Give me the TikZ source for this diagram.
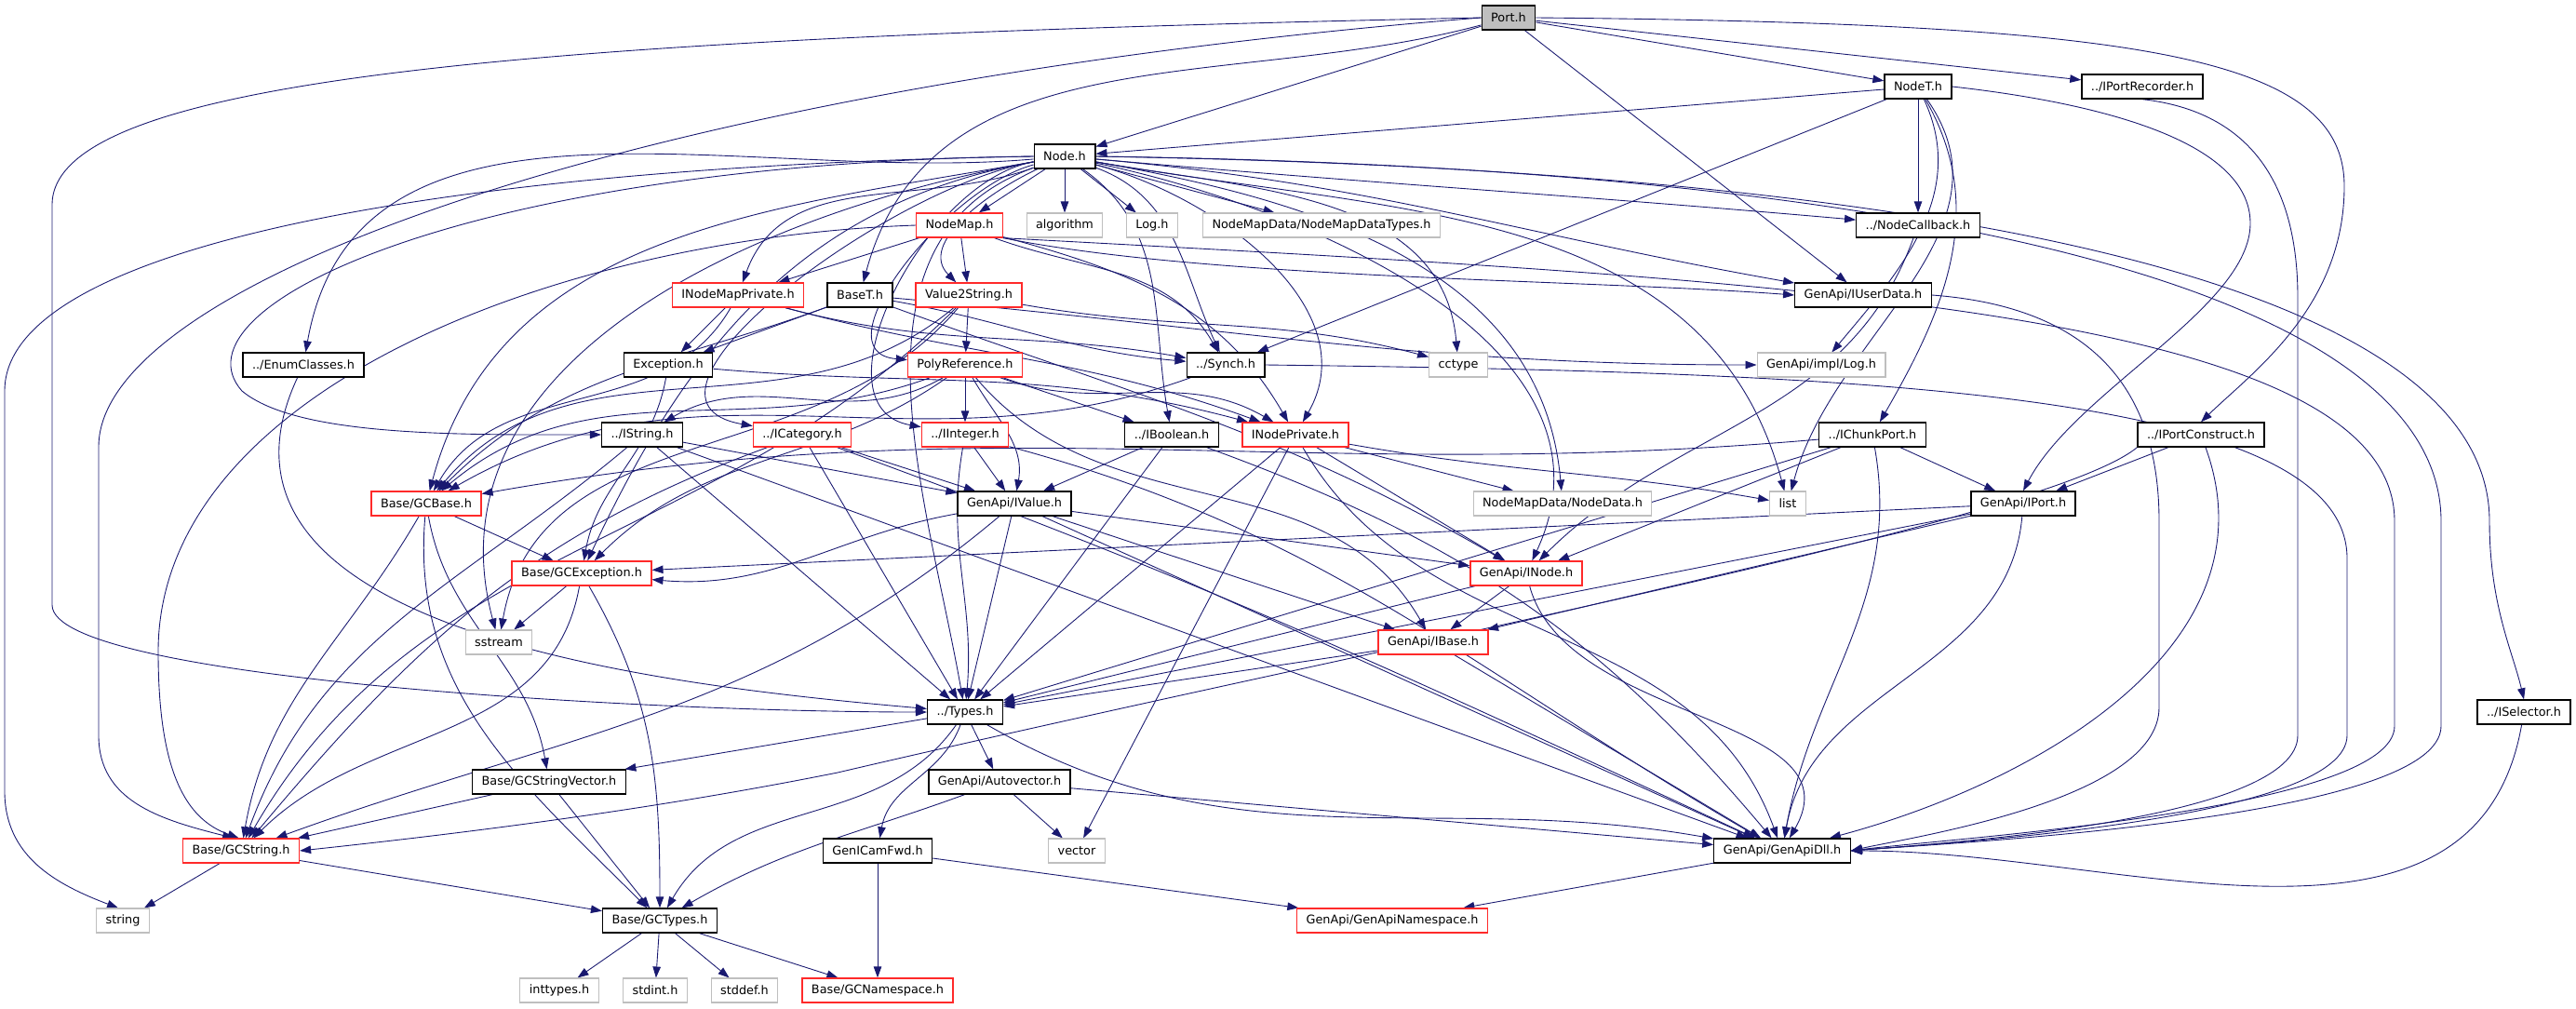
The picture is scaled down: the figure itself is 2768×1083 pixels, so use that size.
\documentclass[tikz,border=0pt]{standalone}
\usepackage{fontspec}
\setmainfont{DejaVu Sans}
\usepackage{tikz}
\usetikzlibrary{arrows.meta}
\definecolor{edgeBlue}{HTML}{191970}
\definecolor{fileRed}{HTML}{FF2A2A}
\definecolor{sysGray}{HTML}{BFBFBF}
\pgfdeclarelayer{edges}
\pgfsetlayers{edges,main}
\tikzset{
  every node/.style={
    font=\fontsize{7.3}{8.5}\selectfont
  },
  file/.style={
    shape=rectangle,
    draw=black,
    line width=0.75pt,
    fill=white,
    minimum height=0.52cm,
    inner xsep=0.2cm,
    inner ysep=0pt
  },
  linked/.style={
    file,
    draw=fileRed
  },
  sysfile/.style={
    file,
    draw=sysGray,
    line width=0.6pt
  },
  current/.style={
    file,
    fill=sysGray
  },
  dep/.style={
    draw=edgeBlue,
    line width=0.5pt,
    -{Triangle[length=0.24cm,width=0.17cm]}
  }
}

\begin{document}
\begin{tikzpicture}[x=0.02cm,y=-0.02cm]
    \useasboundingbox (0,0) rectangle (2768,1083);

    % files, row by row
    \node [current] (port) at (1621,19) {Port.h};
    \node [file] (nodet) at (2061,93) {NodeT.h};
    \node [file] (recorder) at (2302,93) {../IPortRecorder.h};
    \node [file] (nodeh) at (1144,168) {Node.h};
    \node [linked] (nodemap) at (1031,242) {NodeMap.h};
    \node [sysfile] (algorithm) at (1144,242) {algorithm};
    \node [sysfile] (logh) at (1238,242) {Log.h};
    \node [sysfile] (datatypes) at (1420,242) {NodeMapData/NodeMapDataTypes.h};
    \node [file] (callback) at (2061,242) {../NodeCallback.h};
    \node [linked] (mapprivate) at (793,317) {INodeMapPrivate.h};
    \node [file] (baset) at (924,317) {BaseT.h};
    \node [linked] (valstring) at (1041,317) {Value2String.h};
    \node [file] (userdata) at (2002,317) {GenApi/IUserData.h};
    \node [file] (enumcl) at (326,392) {../EnumClasses.h};
    \node [file] (exception) at (718,392) {Exception.h};
    \node [linked] (polyref) at (1037,392) {PolyReference.h};
    \node [file] (synch) at (1317,392) {../Synch.h};
    \node [sysfile] (cctype) at (1567,392) {cctype};
    \node [sysfile] (implog) at (1957,392) {GenApi/impl/Log.h};
    \node [file] (istring) at (690,467) {../IString.h};
    \node [linked] (icategory) at (862,467) {../ICategory.h};
    \node [linked] (iinteger) at (1037,467) {../IInteger.h};
    \node [file] (iboolean) at (1259,467) {../IBoolean.h};
    \node [linked] (nodeprivate) at (1392,467) {INodePrivate.h};
    \node [file] (chunkport) at (2012,467) {../IChunkPort.h};
    \node [file] (construct) at (2365,467) {../IPortConstruct.h};
    \node [linked] (gcbase) at (458,541) {Base/GCBase.h};
    \node [file] (ivalue) at (1090,541) {GenApi/IValue.h};
    \node [sysfile] (nodedata) at (1679,541) {NodeMapData/NodeData.h};
    \node [sysfile] (list) at (1921,541) {list};
    \node [file] (iport) at (2174,541) {GenApi/IPort.h};
    \node [linked] (gcexception) at (625,616) {Base/GCException.h};
    \node [linked] (inode) at (1640,616) {GenApi/INode.h};
    \node [sysfile] (sstream) at (536,690) {sstream};
    \node [linked] (ibase) at (1540,690) {GenApi/IBase.h};
    \node [file] (types) at (1037,765) {../Types.h};
    \node [file] (selector) at (2712,765) {../ISelector.h};
    \node [file] (strvector) at (590,840) {Base/GCStringVector.h};
    \node [file] (autovector) at (1074,840) {GenApi/Autovector.h};
    \node [linked] (gcstring) at (259,914) {Base/GCString.h};
    \node [file] (icamfwd) at (943,914) {GenICamFwd.h};
    \node [sysfile] (vector) at (1157,914) {vector};
    \node [file] (apidll) at (1915,914) {GenApi/GenApiDll.h};
    \node [sysfile] (string) at (132,989) {string};
    \node [file] (gctypes) at (709,989) {Base/GCTypes.h};
    \node [linked] (apinamespace) at (1496,989) {GenApi/GenApiNamespace.h};
    \node [sysfile] (inttypes) at (601,1064) {inttypes.h};
    \node [sysfile] (stdint) at (704,1064) {stdint.h};
    \node [sysfile] (stddef) at (800,1064) {stddef.h};
    \node [linked] (gcnamespace) at (943,1064) {Base/GCNamespace.h};

    \begin{pgfonlayer}{edges}
    % Port.h
    \path (port) edge[dep] (nodeh) edge[dep] (nodet) edge[dep] (recorder)
      edge[dep] (userdata) edge[dep, out=195, in=75] (baset);
    \draw[dep] (port.west) .. controls (600,40) and (56,80) .. (56,220) -- (56,650)
      .. controls (56,730) and (700,765) .. (types.west);
    \draw[dep] (port.west) .. controls (700,90) and (106,300) .. (106,480) -- (106,790)
      .. controls (106,860) and (170,880) .. (gcstring.120);
    \draw[dep] (port.east) .. controls (2300,25) and (2519,60) .. (2519,200)
      .. controls (2519,330) and (2420,400) .. (construct.north);

    % NodeT.h
    \path (nodet) edge[dep] (nodeh) edge[dep] (callback) edge[dep] (synch)
      edge[dep, out=-65, in=50] (implog) edge[dep, out=-55, in=75] (list)
      edge[dep, out=-60, in=60] (chunkport);
    \draw[dep] (nodet.east) .. controls (2250,110) and (2418,150) .. (2418,240)
      .. controls (2418,330) and (2230,420) .. (iport.north);

    % ../IPortRecorder.h
    \draw[dep] (recorder.south) .. controls (2420,120) and (2469,200) .. (2469,320) -- (2469,790)
      .. controls (2469,880) and (2100,905) .. (apidll.east);

    % Node.h
    \path (nodeh) edge[dep] (nodemap) edge[dep] (algorithm) edge[dep] (logh) edge[dep] (datatypes)
      edge[dep, out=-5, in=175] (callback) edge[dep, out=-5, in=170] (userdata)
      edge[dep, out=200, in=70] (mapprivate) edge[dep, out=205, in=135] (valstring)
      edge[dep, out=195, in=175] (polyref) edge[dep, out=-20, in=115] (synch)
      edge[dep, out=-10, in=95] (cctype) edge[dep, out=185, in=80] (enumcl)
      edge[dep, out=-35, in=100] (iboolean) edge[dep, out=-15, in=60] (nodeprivate)
      edge[dep, out=-10, in=95] (nodedata) edge[dep, out=-10, in=105] (list)
      edge[dep, out=-12, in=65] (inode) edge[dep, out=190, in=65] (gcexception)
      edge[dep, out=190, in=105] (sstream) edge[dep, out=200, in=100] (types)
      edge[dep, out=190, in=75] (gcbase) edge[dep, out=190, in=170] (icategory)
      edge[dep, out=190, in=170] (iinteger);
    \draw[dep] (nodeh.west) .. controls (500,175) and (180,330) .. (260,420)
      .. controls (320,470) and (500,467) .. (istring.west);
    \draw[dep] (nodeh.west) .. controls (500,178) and (5,260) .. (5,420) -- (5,850)
      .. controls (5,920) and (60,950) .. (string.110);
    \draw[dep] (nodeh.east) .. controls (2200,185) and (2675,330) .. (2675,560)
      .. controls (2675,650) and (2700,700) .. (selector.north);
    \draw[dep] (nodeh.east) .. controls (2100,180) and (2623,320) .. (2623,560) -- (2623,780)
      .. controls (2623,880) and (2100,905) .. (apidll.east);

    % NodeMap.h
    \path (nodemap) edge[dep] (mapprivate) edge[dep] (valstring)
      edge[dep, out=-20, in=120] (synch) edge[dep, out=-15, in=120] (nodeprivate);
    \draw[dep] (nodemap.south east) .. controls (1300,300) and (1700,300) .. (userdata.west);
    \draw[dep] (nodemap.west) .. controls (600,255) and (170,420) .. (170,700)
      .. controls (170,830) and (200,880) .. (gcstring.100);
    \draw[dep] (nodemap.south east) .. controls (1900,300) and (2573,330) .. (2573,560) -- (2573,780)
      .. controls (2573,870) and (2100,900) .. (apidll.east);

    % INodeMapPrivate.h and BaseT.h
    \path (mapprivate) edge[dep] (exception) edge[dep, out=-15, in=170] (synch)
      edge[dep, out=-15, in=160] (nodeprivate) edge[dep, out=240, in=60] (gcbase);
    \path (baset) edge[dep] (exception) edge[dep, out=-10, in=175] (synch)
      edge[dep, out=-5, in=180] (implog) edge[dep, out=-20, in=150] (inode)
      edge[dep, out=200, in=45] (gcbase);

    % Value2String.h, Exception.h, PolyReference.h
    \path (valstring) edge[dep] (polyref) edge[dep, out=-10, in=165] (cctype)
      edge[dep, out=220, in=50] (gcbase) edge[dep, out=230, in=80] (sstream)
      edge[dep, out=225, in=60] (gcstring);
    \path (exception) edge[dep, out=-100, in=80] (gcexception)
      edge[dep, out=-5, in=165] (nodeprivate);
    \path (polyref) edge[dep] (iinteger) edge[dep, out=-60, in=80] (ivalue) edge[dep] (iboolean)
      edge[dep, out=-20, in=150] (nodeprivate) edge[dep, out=-50, in=120] (ibase)
      edge[dep, out=200, in=40] (gcbase) edge[dep, out=210, in=30] (istring)
      edge[dep, out=215, in=45] (gcexception);

    % ../Synch.h and GenApi/IUserData.h
    \path (synch) edge[dep, out=200, in=30] (gcbase);
    \draw[dep] (synch.east) .. controls (2000,400) and (2522,420) .. (2522,600) -- (2522,790)
      .. controls (2522,880) and (2100,905) .. (apidll.east);
    \draw[dep] (userdata.east) .. controls (2250,330) and (2320,420) .. (2320,560) -- (2320,760)
      .. controls (2320,860) and (2050,900) .. (apidll.east);

    % interface headers
    \path (enumcl) edge[dep, out=-115, in=175] (types);
    \path (istring) edge[dep] (ivalue) edge[dep] (types)
      edge[dep, out=-20, in=160] (apidll) edge[dep, out=220, in=70] (gcstring);
    \path (icategory) edge[dep] (ivalue) edge[dep] (types)
      edge[dep, out=-20, in=155] (apidll) edge[dep, out=200, in=50] (gcstring);
    \path (iinteger) edge[dep] (ivalue) edge[dep, out=-100, in=85] (types)
      edge[dep, out=-15, in=150] (apidll);
    \path (iboolean) edge[dep] (ivalue) edge[dep] (types) edge[dep, out=-20, in=130] (apidll);
    \path (nodeprivate) edge[dep] (inode) edge[dep] (nodedata) edge[dep, out=-10, in=170] (list)
      edge[dep] (types) edge[dep] (vector) edge[dep, out=-60, in=110] (apidll);
    \path (chunkport) edge[dep] (iport) edge[dep, out=185, in=10] (gcbase) edge[dep] (inode)
      edge[dep, out=-80, in=80] (apidll) edge[dep] (types);
    \path (construct) edge[dep] (iport) edge[dep, out=-70, in=15] (apidll);
    \draw[dep] (construct.south west) .. controls (2200,560) and (1500,690) .. (900,830)
      .. controls (700,870) and (500,895) .. (gcstring.east);
    \path (ivalue) edge[dep] (ibase) edge[dep] (inode) edge[dep] (types) edge[dep] (apidll)
      edge[dep, out=190, in=-5] (gcexception) edge[dep, out=220, in=20] (gcstring);
    \path (iport) edge[dep] (ibase) edge[dep] (types) edge[dep, out=-95, in=80] (apidll)
      edge[dep] (gcexception);
    \path (inode) edge[dep] (ibase) edge[dep] (types) edge[dep, out=-75, in=60] (apidll);
    \path (callback) edge[dep, out=-110, in=45] (inode);
    \path (ibase) edge[dep] (types) edge[dep] (apidll);
    \path (selector) edge[dep, out=-100, in=0] (apidll);

    % base headers
    \path (gcbase) edge[dep] (gcexception) edge[dep, out=-120, in=80] (gcstring)
      edge[dep, out=-80, in=100] (strvector) edge[dep, out=-95, in=135] (gctypes);
    \path (gcexception) edge[dep] (sstream) edge[dep, out=-100, in=45] (gcstring)
      edge[dep, out=-60, in=90] (gctypes);
    \path (types) edge[dep] (strvector) edge[dep, out=-125, in=60] (gctypes) edge[dep] (autovector)
      edge[dep, out=-110, in=80] (icamfwd) edge[dep, out=-30, in=170] (apidll);
    \path (strvector) edge[dep] (gcstring) edge[dep] (gctypes);
    \path (autovector) edge[dep] (vector) edge[dep] (apidll) edge[dep, out=200, in=30] (gctypes);
    \path (gcstring) edge[dep] (string) edge[dep] (gctypes);
    \path (icamfwd) edge[dep] (gcnamespace) edge[dep] (apinamespace);
    \path (apidll) edge[dep] (apinamespace);
    \path (gctypes) edge[dep] (inttypes) edge[dep] (stdint) edge[dep] (stddef) edge[dep] (gcnamespace);
    \end{pgfonlayer}
\end{tikzpicture}
\end{document}
